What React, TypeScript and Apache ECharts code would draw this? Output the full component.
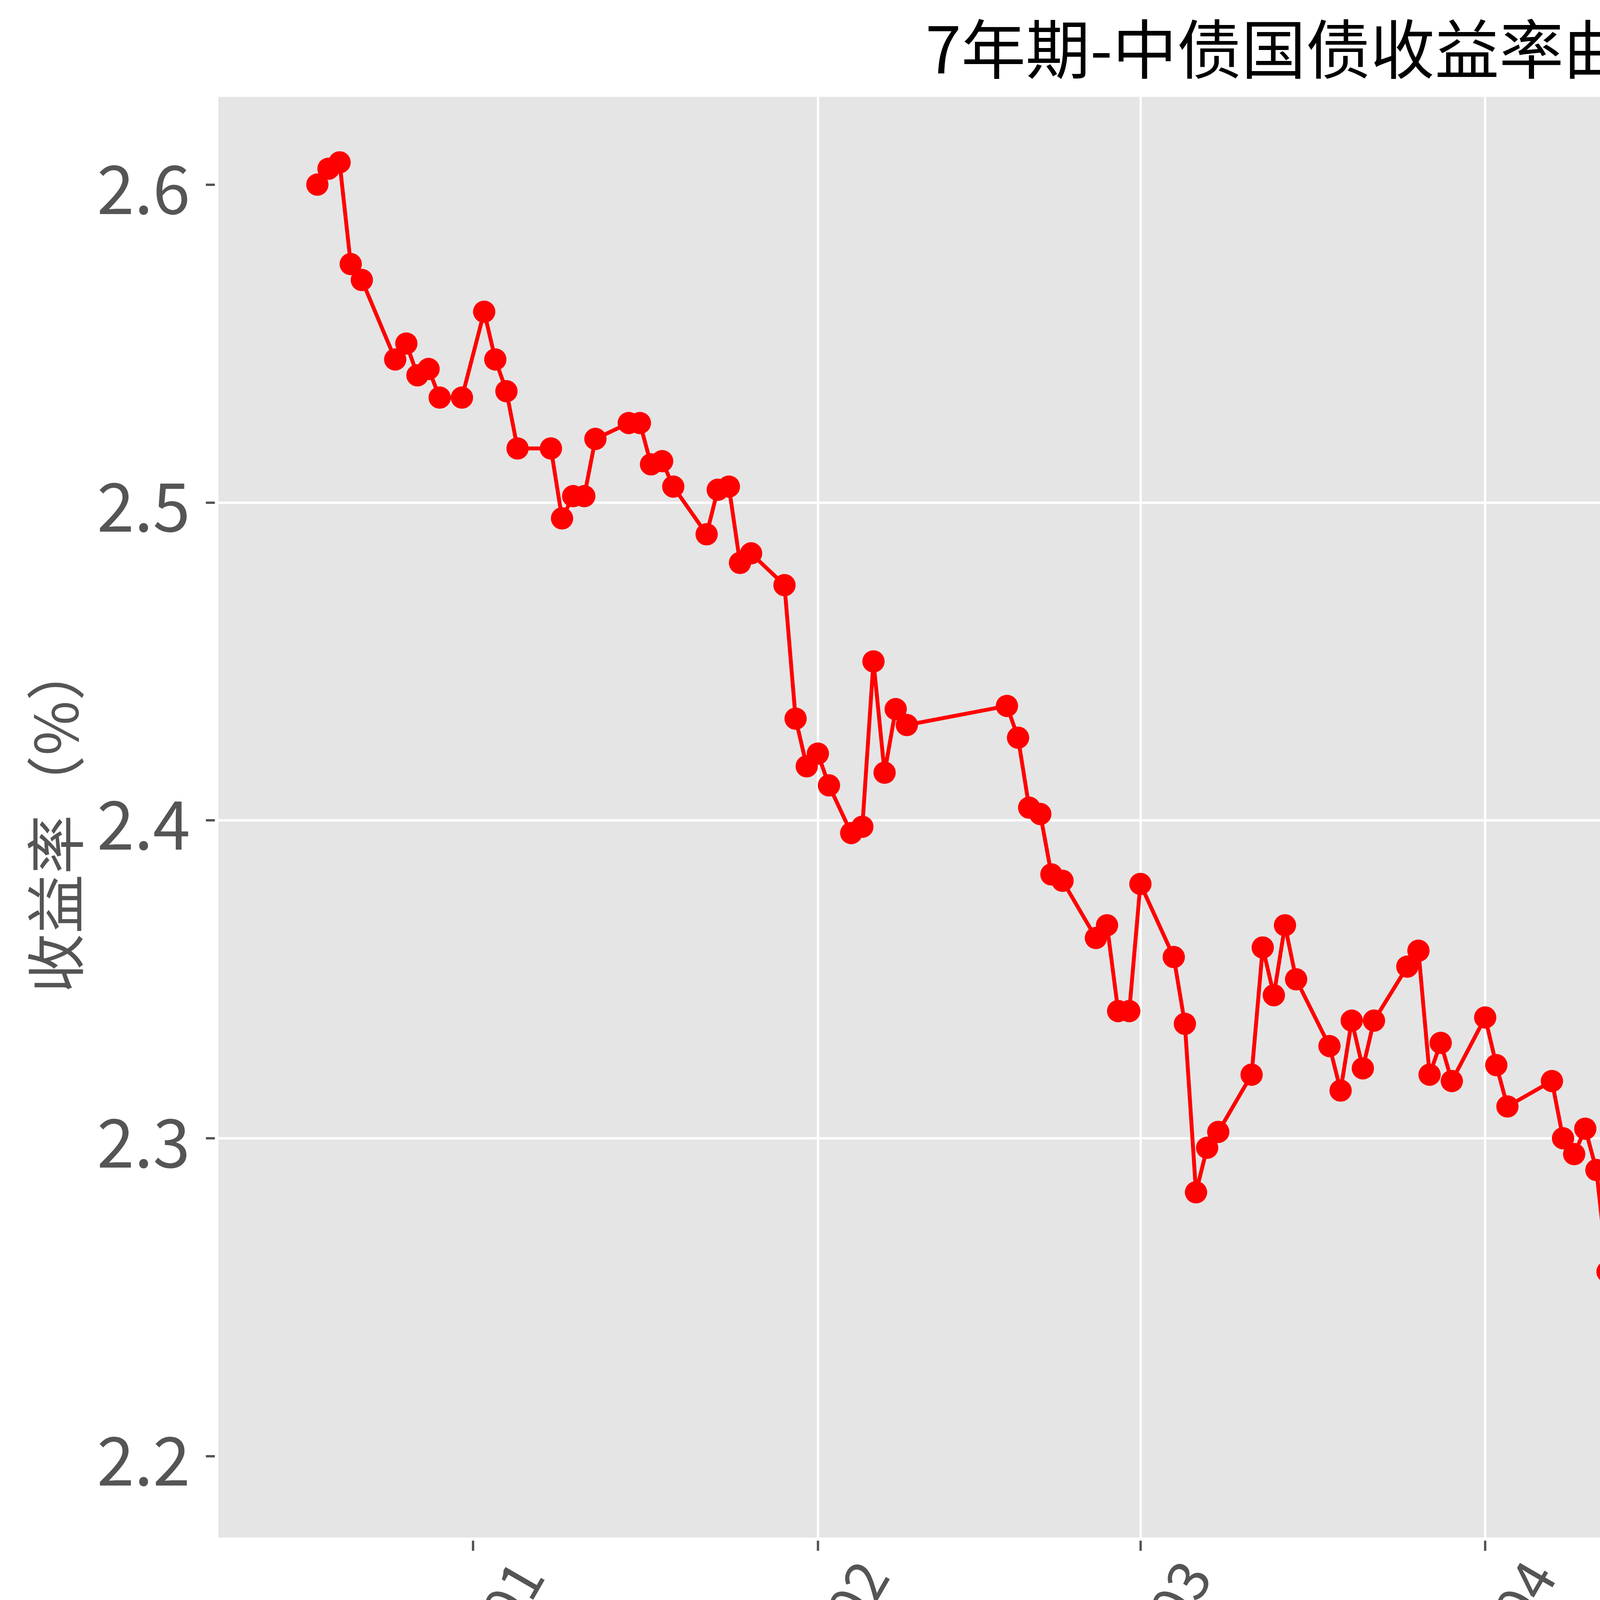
import { useEffect, useRef } from 'react';
import * as echarts from 'echarts';

const FONT = '"Noto Sans CJK SC", "Noto Sans", sans-serif';

const titleText = '7年期-中债国债收益率曲线';
const yName = '收益率（%）';

const dates = [
  '2023-12-18', '2023-12-19', '2023-12-20', '2023-12-21', '2023-12-22',
  '2023-12-25', '2023-12-26', '2023-12-27', '2023-12-28', '2023-12-29',
  '2023-12-31', '2024-01-02', '2024-01-03', '2024-01-04', '2024-01-05',
  '2024-01-08', '2024-01-09', '2024-01-10', '2024-01-11', '2024-01-12',
  '2024-01-15', '2024-01-16', '2024-01-17', '2024-01-18', '2024-01-19',
  '2024-01-22', '2024-01-23', '2024-01-24', '2024-01-25', '2024-01-26',
  '2024-01-29', '2024-01-30', '2024-01-31', '2024-02-01', '2024-02-02',
  '2024-02-04', '2024-02-05', '2024-02-06', '2024-02-07', '2024-02-08',
  '2024-02-09', '2024-02-18', '2024-02-19', '2024-02-20', '2024-02-21',
  '2024-02-22', '2024-02-23', '2024-02-26', '2024-02-27', '2024-02-28',
  '2024-02-29', '2024-03-01', '2024-03-04', '2024-03-05', '2024-03-06',
  '2024-03-07', '2024-03-08', '2024-03-11', '2024-03-12', '2024-03-13',
  '2024-03-14', '2024-03-15', '2024-03-18', '2024-03-19', '2024-03-20',
  '2024-03-21', '2024-03-22', '2024-03-25', '2024-03-26', '2024-03-27',
  '2024-03-28', '2024-03-29', '2024-04-01', '2024-04-02', '2024-04-03',
  '2024-04-07', '2024-04-08', '2024-04-09', '2024-04-10', '2024-04-11',
  '2024-04-12', '2024-04-15', '2024-04-16', '2024-04-17', '2024-04-18',
  '2024-04-19', '2024-04-22', '2024-04-23', '2024-04-24', '2024-04-25',
  '2024-04-26', '2024-04-28', '2024-04-29', '2024-04-30', '2024-05-06',
  '2024-05-07', '2024-05-08', '2024-05-09', '2024-05-10', '2024-05-11',
  '2024-05-13', '2024-05-14', '2024-05-15', '2024-05-16', '2024-05-17',
  '2024-05-20', '2024-05-21', '2024-05-22', '2024-05-23', '2024-05-24',
  '2024-05-27', '2024-05-28', '2024-05-29', '2024-05-30', '2024-05-31',
  '2024-06-03', '2024-06-04', '2024-06-05', '2024-06-06', '2024-06-07',
  '2024-06-11', '2024-06-12', '2024-06-13',
];

const yields = [
  2.600, 2.605, 2.607, 2.575, 2.570,
  2.545, 2.550, 2.540, 2.542, 2.533,
  2.533, 2.560, 2.545, 2.535, 2.517,
  2.517, 2.495, 2.502, 2.502, 2.520,
  2.525, 2.525, 2.512, 2.513, 2.505,
  2.490, 2.504, 2.505, 2.481, 2.484,
  2.474, 2.432, 2.417, 2.421, 2.411,
  2.396, 2.398, 2.450, 2.415, 2.435,
  2.430, 2.436, 2.426, 2.404, 2.402,
  2.383, 2.381, 2.363, 2.367, 2.340,
  2.340, 2.380, 2.357, 2.336, 2.283,
  2.297, 2.302, 2.320, 2.360, 2.345,
  2.367, 2.350, 2.329, 2.315, 2.337,
  2.322, 2.337, 2.354, 2.359, 2.320,
  2.330, 2.318, 2.338, 2.323, 2.310,
  2.318, 2.300, 2.295, 2.303, 2.290,
  2.258, 2.254, 2.245, 2.237, 2.231,
  2.224, 2.212, 2.195, 2.245, 2.224,
  2.278, 2.309, 2.334, 2.282, 2.279,
  2.252, 2.260, 2.289, 2.282, 2.309,
  2.264, 2.256, 2.261, 2.278, 2.271,
  2.271, 2.274, 2.270, 2.255, 2.261,
  2.257, 2.247, 2.244, 2.245, 2.253,
  2.233, 2.231, 2.209, 2.214, 2.216,
  2.211, 2.215, 2.214,
];

const monthTicks = ['2024-01-01', '2024-02-01', '2024-03-01', '2024-04-01', '2024-05-01', '2024-06-01'];
const yTicks = [2.2, 2.3, 2.4, 2.5, 2.6];

const toTime = (s: string) => {
  const [y, m, d] = s.split('-').map(Number);
  return Date.UTC(y, m - 1, d);
};

const pad2 = (n: number) => (n < 10 ? '0' + n : String(n));

export default function App() {
  const chartRef = useRef<HTMLDivElement>(null);

  useEffect(() => {
    if (!chartRef.current) return;
    const chart = echarts.init(chartRef.current, undefined, { renderer: 'svg' });

    const times = dates.map(toTime);
    const monthTimes = monthTicks.map(toTime);
    // matplotlib-style 5% margins
    const tMin = Math.min(...times);
    const tMax = Math.max(...times);
    const tPad = (tMax - tMin) * 0.05;
    const vMin = Math.min(...yields);
    const vMax = Math.max(...yields);
    const vPad = (vMax - vMin) * 0.05;

    const gridLine = { color: '#ffffff', width: 6 };
    const tickLine = { color: '#555555', width: 6 };

    chart.setOption({
      animation: false,
      backgroundColor: '#ffffff',
      textStyle: { fontFamily: FONT },
      title: {
        text: titleText,
        left: 3346,
        top: 29,
        textAlign: 'center',
        textStyle: { fontSize: 165, fontWeight: 'normal', color: '#000000', fontFamily: FONT },
      },
      grid: {
        left: 559,
        right: 60,
        top: 248,
        bottom: 637,
        show: true,
        backgroundColor: '#e5e5e5',
        borderWidth: 0,
      },
      xAxis: {
        type: 'value',
        min: tMin - tPad,
        max: tMax + tPad,
        offset: 8,
        axisLine: { show: false },
        axisTick: { show: true, customValues: monthTimes, length: 26, lineStyle: tickLine },
        axisLabel: {
          customValues: monthTimes,
          formatter: (v: number) => {
            const d = new Date(v);
            return d.getUTCFullYear() + '-' + pad2(d.getUTCMonth() + 1);
          },
          rotate: 60,
          align: 'center',
          verticalAlign: 'middle',
          margin: 292,
          fontSize: 145,
          color: '#555555',
          fontFamily: FONT,
        },
        splitLine: { show: true, showMinLine: false, showMaxLine: false, lineStyle: gridLine },
      },
      yAxis: {
        type: 'value',
        min: vMin - vPad,
        max: vMax + vPad,
        offset: 9,
        name: yName,
        nameLocation: 'middle',
        nameRotate: 90,
        nameGap: 340,
        nameTextStyle: { fontSize: 152, color: '#555555', fontFamily: FONT },
        axisLine: { show: false },
        axisTick: { show: true, customValues: yTicks, length: 23, lineStyle: tickLine },
        axisLabel: {
          customValues: yTicks,
          formatter: (v: number) => v.toFixed(1),
          margin: 63,
          fontSize: 172,
          color: '#555555',
          fontFamily: FONT,
        },
        splitLine: { show: true, showMinLine: false, showMaxLine: false, lineStyle: gridLine },
      },
      graphic: [
        {
          // empty legend frame, as in the source figure
          type: 'rect',
          shape: { x: 6026, y: 283, width: 68, height: 70, r: 12 },
          style: { fill: '#e5e5e5', stroke: '#d0d0d0', lineWidth: 4 },
          z: 100,
        },
      ],
      series: [
        {
          type: 'line',
          data: times.map((t, i) => [t, yields[i]]),
          symbol: 'circle',
          symbolSize: 57,
          showAllSymbol: true,
          lineStyle: { color: '#ff0000', width: 10 },
          itemStyle: { color: '#ff0000' },
        },
      ],
    });

    return () => {
      chart.dispose();
    };
  }, []);

  return (
    <div
      ref={chartRef}
      style={{ position: 'fixed', left: 0, top: 0, width: '6194px', height: '4573px' }}
    ></div>
  );
}
